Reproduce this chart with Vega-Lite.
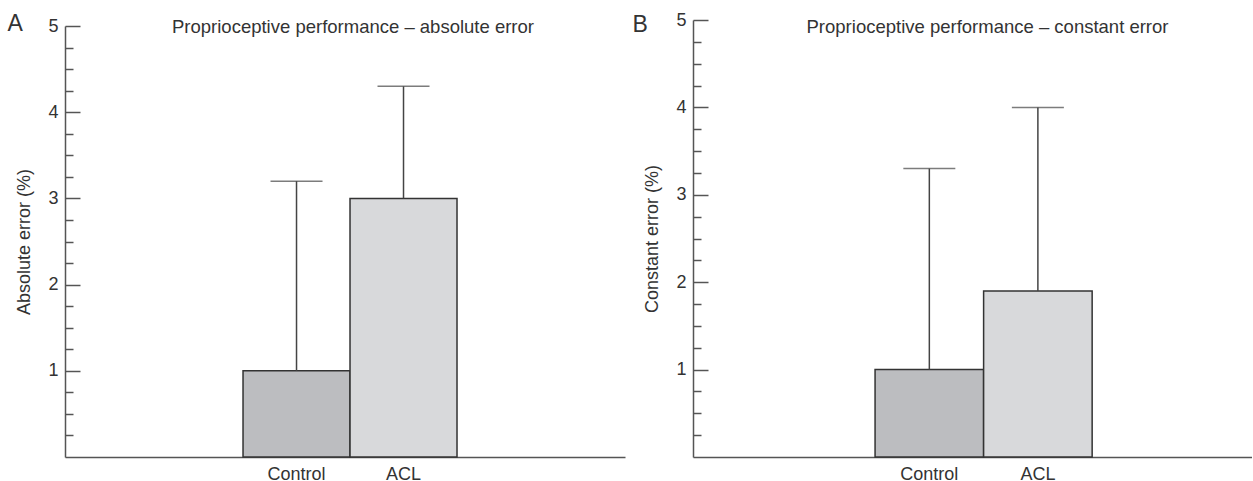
{
  "$schema": "https://vega.github.io/schema/vega-lite/v6.json",
  "padding": {"left": 7, "top": 11, "right": 0, "bottom": 0},
  "config": {
    "font": "Liberation Sans",
    "view": {"stroke": null},
    "concat": {"spacing": 7},
    "axis": {"labelColor": "#333", "titleColor": "#333", "domainColor": "#555", "tickColor": "#555", "domainWidth": 1.5, "tickWidth": 1.5, "labelFontSize": 18, "titleFontSize": 18, "titleFontWeight": "normal", "grid": false},
    "title": {"color": "#333", "fontWeight": "normal"}
  },
  "datasets": {
    "abs": [
      {"group": "Control", "mean": 1.0, "upper": 3.2},
      {"group": "ACL", "mean": 3.0, "upper": 4.3}
    ],
    "cons": [
      {"group": "Control", "mean": 1.0, "upper": 3.3},
      {"group": "ACL", "mean": 1.9, "upper": 4.0}
    ]
  },
  "hconcat": [
    {
      "width": 560,
      "height": 437,
      "title": {"text": "Proprioceptive performance – absolute error", "fontSize": 18.5, "anchor": "middle", "frame": "group", "baseline": "alphabetic", "offset": -39, "dx": 8},
      "data": {"name": "abs"},
      "resolve": {"axis": {"y": "independent"}},
      "encoding": {
        "x": {"field": "group", "type": "nominal",
          "scale": {"domain": ["_l", "Control", "ACL", "_r"], "paddingInner": 0, "paddingOuter": 0.617, "align": 0.538},
          "axis": {"title": null, "ticks": false, "labelAngle": 0, "labelPadding": 8, "labelExpr": "datum.value == 'Control' || datum.value == 'ACL' ? datum.label : ''"}}
      },
      "layer": [
        {
          "mark": {"type": "bar", "stroke": "#333", "strokeWidth": 1.5},
          "encoding": {
            "y": {"field": "mean", "type": "quantitative",
              "scale": {"domain": [0, 5], "nice": false, "zero": true, "range": [437, 6]},
              "axis": {"orient": "left", "title": "Absolute error (%)", "values": [1, 2, 3, 4, 5], "tickSize": -15, "labelPadding": 22, "titlePadding": 14}},
            "color": {"field": "group", "type": "nominal", "scale": {"domain": ["Control", "ACL"], "range": ["#bcbdc0", "#d8d9db"]}, "legend": null}
          }
        },
        {
          "mark": {"type": "rule", "color": "#444", "strokeWidth": 1.5},
          "encoding": {
            "y": {"field": "mean", "type": "quantitative",
              "axis": {"orient": "left", "values": [0.25, 0.5, 0.75, 1.25, 1.5, 1.75, 2.25, 2.5, 2.75, 3.25, 3.5, 3.75, 4.25, 4.5, 4.75], "tickSize": -8, "labels": false, "domain": false,
                "title": "A", "titleAngle": 0, "titleX": -58, "titleY": 10, "titleAlign": "left", "titleBaseline": "alphabetic", "titleFontSize": 23}},
            "y2": {"field": "upper"}
          }
        },
        {
          "mark": {"type": "tick", "color": "#444", "thickness": 1.5, "size": 52, "orient": "horizontal"},
          "encoding": {"y": {"field": "upper", "type": "quantitative", "axis": null}}
        }
      ]
    },
    {
      "width": 559,
      "height": 437,
      "title": {"text": "Proprioceptive performance – constant error", "fontSize": 18.5, "anchor": "middle", "frame": "group", "baseline": "alphabetic", "offset": -40, "dx": 15},
      "data": {"name": "cons"},
      "resolve": {"axis": {"y": "independent"}},
      "encoding": {
        "x": {"field": "group", "type": "nominal",
          "scale": {"domain": ["_l", "Control", "ACL", "_r"], "paddingInner": 0, "paddingOuter": 0.575, "align": 0.589},
          "axis": {"title": null, "ticks": false, "labelAngle": 0, "labelPadding": 8, "labelExpr": "datum.value == 'Control' || datum.value == 'ACL' ? datum.label : ''"}}
      },
      "layer": [
        {
          "mark": {"type": "bar", "stroke": "#333", "strokeWidth": 1.5},
          "encoding": {
            "y": {"field": "mean", "type": "quantitative",
              "scale": {"domain": [0, 5], "nice": false, "zero": true},
              "axis": {"orient": "left", "title": "Constant error (%)", "values": [1, 2, 3, 4, 5], "tickSize": -15, "labelPadding": 22, "titlePadding": 14}},
            "color": {"field": "group", "type": "nominal", "scale": {"domain": ["Control", "ACL"], "range": ["#bcbdc0", "#d8d9db"]}, "legend": null}
          }
        },
        {
          "mark": {"type": "rule", "color": "#444", "strokeWidth": 1.5},
          "encoding": {
            "y": {"field": "mean", "type": "quantitative",
              "axis": {"orient": "left", "values": [0.25, 0.5, 0.75, 1.25, 1.5, 1.75, 2.25, 2.5, 2.75, 3.25, 3.5, 3.75, 4.25, 4.5, 4.75], "tickSize": -8, "labels": false, "domain": false,
                "title": "B", "titleAngle": 0, "titleX": -61, "titleY": 11, "titleAlign": "left", "titleBaseline": "alphabetic", "titleFontSize": 23}},
            "y2": {"field": "upper"}
          }
        },
        {
          "mark": {"type": "tick", "color": "#444", "thickness": 1.5, "size": 52, "orient": "horizontal"},
          "encoding": {"y": {"field": "upper", "type": "quantitative", "axis": null}}
        }
      ]
    }
  ]
}
